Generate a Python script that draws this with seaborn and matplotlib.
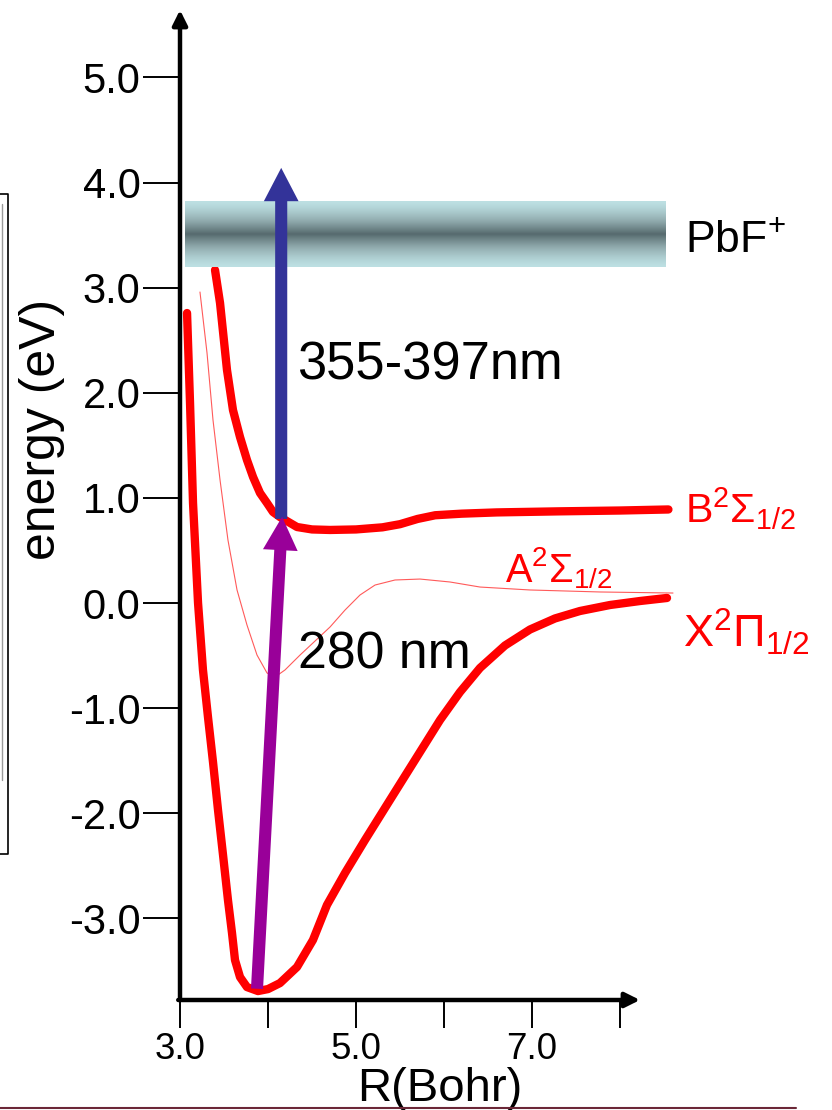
import numpy as np
import pandas as pd
import matplotlib
matplotlib.use("Agg")
import matplotlib.pyplot as plt
import seaborn as sns
from matplotlib.lines import Line2D
from matplotlib.colors import LinearSegmentedColormap

# ---------------- data ----------------
# X 2Pi_1/2 ground state
x_R = [3.080, 3.114, 3.148, 3.205, 3.261, 3.318, 3.375, 3.432, 3.489, 3.545, 3.591,
       3.625, 3.682, 3.761, 3.886, 4.000, 4.136, 4.330, 4.511, 4.670, 4.875, 5.102,
       5.386, 5.670, 5.955, 6.182, 6.409, 6.693, 6.977, 7.261, 7.545, 7.886, 8.227, 8.534]
x_E = [2.759, 1.903, 0.951, 0.000, -0.637, -1.085, -1.513, -1.970, -2.398, -2.826, -3.140,
       -3.397, -3.559, -3.654, -3.692, -3.673, -3.616, -3.463, -3.206, -2.873, -2.569, -2.255,
       -1.874, -1.494, -1.113, -0.847, -0.618, -0.404, -0.252, -0.147, -0.076, -0.019, 0.019, 0.048]
# B 2Sigma_1/2
b_R = [3.398, 3.455, 3.534, 3.602, 3.682, 3.761, 3.830, 3.909, 3.989, 4.057, 4.136,
       4.330, 4.500, 4.705, 5.000, 5.300, 5.500, 5.700, 5.900, 6.200, 6.600, 7.300,
       8.000, 8.550]
b_E = [3.168, 2.854, 2.217, 1.836, 1.579, 1.361, 1.199, 1.047, 0.951, 0.866, 0.818,
       0.723, 0.700, 0.695, 0.700, 0.720, 0.750, 0.800, 0.835, 0.850, 0.862, 0.872,
       0.880, 0.890]
# A 2Sigma_1/2
a_R = [3.227, 3.307, 3.375, 3.455, 3.545, 3.648, 3.761, 3.875, 3.989, 4.080, 4.193,
       4.364, 4.534, 4.705, 4.875, 5.045, 5.216, 5.443, 5.727, 6.068, 6.409, 6.977,
       7.773, 8.602]
a_E = [2.959, 2.379, 1.741, 1.170, 0.599, 0.124, -0.209, -0.495, -0.666, -0.704, -0.637,
       -0.495, -0.362, -0.228, -0.067, 0.076, 0.171, 0.219, 0.228, 0.200, 0.152, 0.124,
       0.105, 0.095]

# ionic band (PbF+)
band_R = [3.06, 8.52]
band_E = [3.20, 3.82]

# transitions: (start R, start E) -> (end R, end E)
uv_start, uv_end = (3.875, -3.67), (4.16, 0.82)      # 280 nm
ion_start, ion_end = (4.15, 0.80), (4.15, 4.14)      # 355-397 nm

y_ticks = [-3, -2, -1, 0, 1, 2, 3, 4, 5]
y_ticklabels = ["-3.0", "-2.0", "-1.0", "0.0", "1.0", "2.0", "3.0", "4.0", "5.0"]
x_ticks = [3, 4, 5, 6, 7, 8]
x_ticklabels = ["3.0", "", "5.0", "", "7.0", ""]

# ---------------- style ----------------
sns.set_theme(style="white")
plt.rcParams["font.family"] = ["Liberation Sans", "DejaVu Sans"]
plt.rcParams["mathtext.fontset"] = "custom"
plt.rcParams["mathtext.rm"] = "Liberation Sans"
plt.rcParams["mathtext.it"] = "Liberation Sans:italic"
plt.rcParams["mathtext.bf"] = "Liberation Sans:bold"

W, H = 832, 1110
fig = plt.figure(figsize=(W / 100, H / 100), dpi=100)
fig.patch.set_facecolor("white")
ax = fig.add_axes([180 / W, 1 - 1000 / H, (640 - 180) / W, (1000 - 10) / H])
ax.patch.set_visible(False)
XL, YL = (3.0, 8.227), (-3.777, 5.642)

RED = "#ff0000"
df_x = pd.DataFrame({"R": x_R, "E": x_E})
df_b = pd.DataFrame({"R": b_R, "E": b_E})
df_a = pd.DataFrame({"R": a_R, "E": a_E})

sns.lineplot(data=df_a, x="R", y="E", ax=ax, color="#ff5a5a", lw=0.8,
             sort=False, estimator=None, zorder=2)
sns.lineplot(data=df_b, x="R", y="E", ax=ax, color=RED, lw=6.0,
             sort=False, estimator=None, zorder=3)
sns.lineplot(data=df_x, x="R", y="E", ax=ax, color=RED, lw=6.0,
             sort=False, estimator=None, zorder=3)
for ln in ax.lines:
    ln.set_clip_on(False)
    ln.set_solid_joinstyle("round")

# PbF+ band with vertical gradient
t = np.linspace(-1, 1, 256)
prof = np.clip(1 - np.abs(t), 0, 1) ** 1.4
cmap = LinearSegmentedColormap.from_list("band", ["#bde0e3", "#8fa9ac", "#566a6e"])
ax.imshow(prof[:, None], extent=(band_R[0], band_R[1], band_E[0], band_E[1]),
          aspect="auto", cmap=cmap, vmin=0, vmax=1, origin="lower",
          zorder=4, clip_on=False, interpolation="bilinear")

# transition arrows
ax.annotate("", xy=uv_end, xytext=uv_start, annotation_clip=False, zorder=6,
            arrowprops=dict(arrowstyle="simple,head_width=2.5,head_length=2.4,tail_width=0.87",
                            mutation_scale=10, color="#990099", lw=0,
                            shrinkA=0, shrinkB=0))
ax.annotate("", xy=ion_end, xytext=ion_start, annotation_clip=False, zorder=5,
            arrowprops=dict(arrowstyle="simple,head_width=2.5,head_length=2.4,tail_width=0.87",
                            mutation_scale=10, color="#333399", lw=0,
                            shrinkA=0, shrinkB=0))

# axes with arrows
for s in ax.spines.values():
    s.set_visible(False)
ax.annotate("", xy=(XL[0], YL[1]), xytext=(XL[0], YL[0]), annotation_clip=False,
            arrowprops=dict(arrowstyle="-|>", lw=3.2, color="black", mutation_scale=22,
                            shrinkA=0, shrinkB=0))
ax.annotate("", xy=(XL[1], YL[0]), xytext=(XL[0] - 0.02, YL[0]), annotation_clip=False,
            arrowprops=dict(arrowstyle="-|>", lw=3.2, color="black", mutation_scale=22,
                            shrinkA=0, shrinkB=0))

ax.set_xlim(*XL)
ax.set_ylim(*YL)
ax.set_yticks(y_ticks)
ax.set_yticklabels(y_ticklabels)
ax.set_xticks(x_ticks)
ax.set_xticklabels(x_ticklabels)
ax.tick_params(axis="y", direction="out", length=27, width=1.4, pad=1.5,
               labelsize=30, colors="black", left=True)
ax.tick_params(axis="x", direction="out", length=20, width=1.4, pad=3,
               labelsize=26.5, colors="black", bottom=True)
ax.grid(False)
ax.set_xlabel("")
ax.set_ylabel("")

# texts
ax.text(8.74, 3.45, "PbF$^{+}$", fontsize=32, ha="left", va="center", color="black")
ax.text(4.33, 2.26, "355-397nm", fontsize=37.8, ha="left", va="center", color="black")
ax.text(4.34, -0.49, "280 nm", fontsize=37.3, ha="left", va="center", color="black")
ax.text(8.74, 0.76, "B$^2$Σ$_{1/2}$", fontsize=29.5, ha="left", va="baseline", color=RED)
ax.text(6.69, 0.20, "A$^2$Σ$_{1/2}$", fontsize=28.5, ha="left", va="baseline", color=RED)
ax.text(8.72, -0.42, "X$^2$Π$_{1/2}$", fontsize=32.5, ha="left", va="baseline", color=RED)
ax.text(1.43, 1.65, "energy (eV)", fontsize=36, rotation=90, ha="center", va="center",
        color="black")
ax.text(5.95, -4.74, "R(Bohr)", fontsize=34, ha="center", va="baseline", color="black")

# page decorations
def fl(xs, ys, **kw):
    fig.add_artist(Line2D([x / W for x in xs], [1 - y / H for y in ys],
                          transform=fig.transFigure, **kw))

fl([0, 8, 8, 0], [194, 194, 854, 854], color="black", lw=1.2)
fl([2, 2], [204, 780], color="#9a9a9a", lw=1.0)
fl([0, 796], [1108, 1108], color="#6b2737", lw=1.5)

fig.savefig("out.png", dpi=100, facecolor="white")
